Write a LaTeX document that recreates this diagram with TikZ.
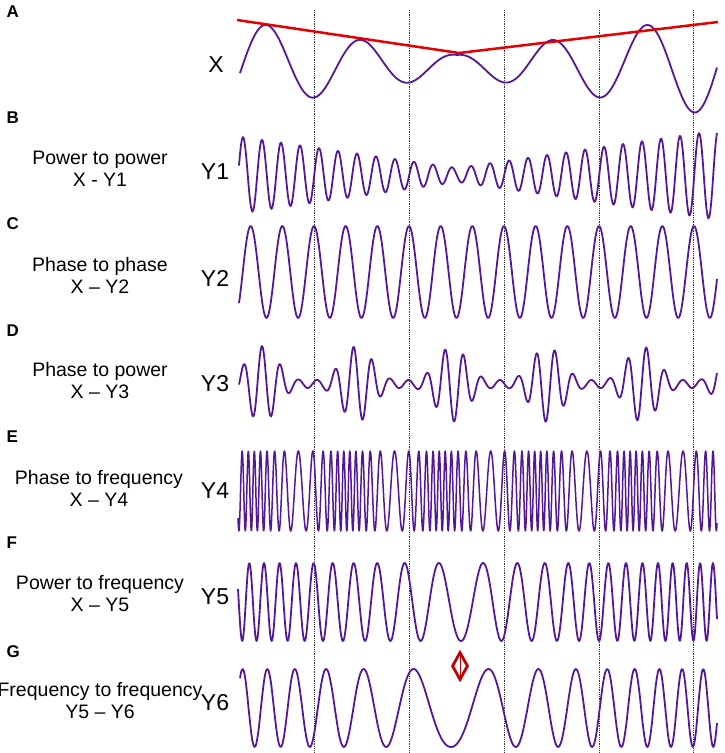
\documentclass[tikz,border=0pt]{standalone}
\usepackage{fontspec}
\setmainfont{Liberation Sans}
\usetikzlibrary{shapes.geometric}
\begin{document}
\begin{tikzpicture}[x=1pt,y=-1pt,
  sig/.style={draw={rgb,255:red,84;green,24;blue,150},line width=1.8pt,line join=round},
  vline/.style={densely dotted,line width=0.8pt,black!80},
  lab/.style={font=\fontsize{19.5}{22}\selectfont,align=center},
  ylab/.style={font=\fontsize{23}{25}\selectfont},
  let/.style={font=\fontsize{17}{19}\selectfont\bfseries},
  declare function={
    ax(\x)=10+30*abs(\x-457)/190;
    a1(\x)=7+31*abs(\x-457)/214;
    e3(\x)=4+34*((1+cos((\x-262)*3.7895))/2)^2;
    p4(\x)=(\x-238)*0.115+0.79*sin((\x-252)*3.7895);
    p5(\x)=0.02*(\x-461)+(\x-461)*0.051*abs(\x-461)/434;
    p6(\x)=0.0105*(\x-451)+(\x-451)*0.00007*abs(\x-451);
  }]
\useasboundingbox (0,0) rectangle (724,753);
% dotted lines
\foreach \v/\n in {314/a,409/b,504/c,599/d,693/e}{
  \coordinate (t\n) at (\v,10); \coordinate (b\n) at (\v,753);
  \draw[vline] (t\n) -- (b\n);}
% signals
\draw[sig] plot[domain=240:717,samples=300,smooth] (\x,{65+ax(\x)*cos((\x-314)*3.7895)});
\draw[sig] plot[domain=239:717,samples=500] (\x,{175-a1(\x)*cos((\x-243)*18.947)});
\draw[sig] plot[domain=239:717,samples=500] (\x,{272-46*cos((\x-314)*11.368)});
\draw[sig] plot[domain=239:717,samples=600] (\x,{384-e3(\x)*cos((\x-262)*19.67)});
\draw[sig,line width=1.5pt] plot[domain=238:717,samples=1600] (\x,{491-40*cos(360*mod(p4(\x),1))});
\draw[sig] plot[domain=238:717,samples=700] (\x,{602+39*cos(360*mod(p5(\x),1))});
\draw[sig] plot[domain=240:717,samples=500] (\x,{708+39*cos(360*mod(p6(\x),1))});
% red envelope
\coordinate (r1) at (237,20); \coordinate (r2) at (459,53); \coordinate (r3) at (718,22);
\draw[red!90!black,line width=2.5pt,line join=round] (r1) -- (r2) -- (r3);
% diamond marker
\node[diamond,draw=red!75!black,line width=2.8pt,minimum width=16pt,minimum height=28pt,inner sep=0pt,aspect=0.55] (dm) at (460,666) {};
\draw[red!75!black,line width=1pt] (dm.north) -- (dm.south);
% letters
\foreach \l/\yy in {A/12,B/118,C/224,D/331,E/437,F/543,G/652}
  \node[let,anchor=west] (L\l) at (3,\yy) {\l};
% y labels
\node[ylab] (nX) at (216,65) {X};
\node[ylab] (nY1) at (215,172) {Y1};
\node[ylab] (nY2) at (215,278) {Y2};
\node[ylab] (nY3) at (215,384) {Y3};
\node[ylab] (nY4) at (215,491) {Y4};
\node[ylab] (nY5) at (215,597) {Y5};
\node[ylab] (nY6) at (215,703) {Y6};
% descriptions
\node[lab] (d1) at (100,169) {Power to power\\X - Y1};
\node[lab] (d2) at (100,275) {Phase to phase\\X -- Y2};
\node[lab] (d3) at (100,381) {Phase to power\\X -- Y3};
\node[lab] (d4) at (99,488) {Phase to frequency\\X -- Y4};
\node[lab] (d5) at (100,594) {Power to frequency\\X -- Y5};
\node[lab] (d6) at (100,701) {Frequency to frequency\\Y5 -- Y6};
\end{tikzpicture}
\end{document}
